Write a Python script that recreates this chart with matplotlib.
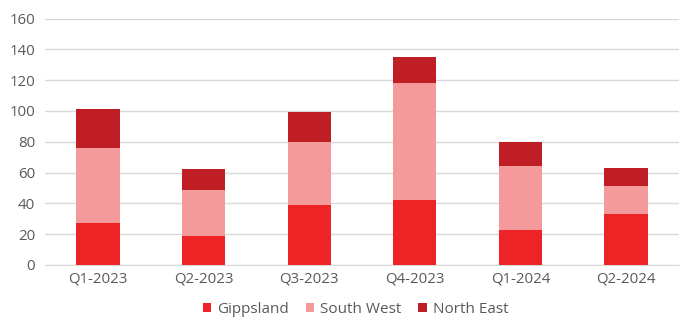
import matplotlib.pyplot as plt
import numpy as np

plt.rcParams['font.family'] = ['Open Sans', 'DejaVu Sans']

# Data
quarters = ['Q1-2023', 'Q2-2023', 'Q3-2023', 'Q4-2023', 'Q1-2024', 'Q2-2024']
gippsland = [27, 19, 39, 42, 23, 33]
south_west = [49, 30, 41, 76, 41, 18]
north_east = [25, 13, 19, 17, 16, 12]

c_gipps = '#EE2326'
c_sw = '#F59A9A'
c_ne = '#BE1E24'
text_col = '#595959'

fig = plt.figure(figsize=(6.83, 3.2), dpi=100)
ax = fig.add_axes([0.066, 0.172, 0.928, 0.77])

x = np.arange(len(quarters))
w = 0.41
g = np.array(gippsland)
s = np.array(south_west)
n = np.array(north_east)
ax.bar(x, g, w, color=c_gipps, label='Gippsland', zorder=3)
ax.bar(x, s, w, bottom=g, color=c_sw, label='South West', zorder=3)
ax.bar(x, n, w, bottom=g + s, color=c_ne, label='North East', zorder=3)

ax.set_xlim(-0.5, len(quarters) - 0.5)
ax.set_ylim(0, 160)
ax.set_yticks(range(0, 161, 20))
ax.set_xticks(x)
ax.set_xticklabels(quarters)
ax.grid(axis='y', color='#D9D9D9', linewidth=1, zorder=0)
for sp in ['top', 'right', 'left']:
    ax.spines[sp].set_visible(False)
ax.spines['bottom'].set_color('#D9D9D9')
ax.tick_params(axis='both', length=0, colors=text_col, labelsize=10.8)
ax.tick_params(axis='y', pad=7)
ax.tick_params(axis='x', pad=5)

ax.legend(loc='upper center', bbox_to_anchor=(0.49, -0.095), ncol=3, frameon=False,
          fontsize=11, labelcolor=text_col, handlelength=0.55, handleheight=0.55,
          handletextpad=0.4, columnspacing=1.1)

fig.savefig('out.png', dpi=100)
